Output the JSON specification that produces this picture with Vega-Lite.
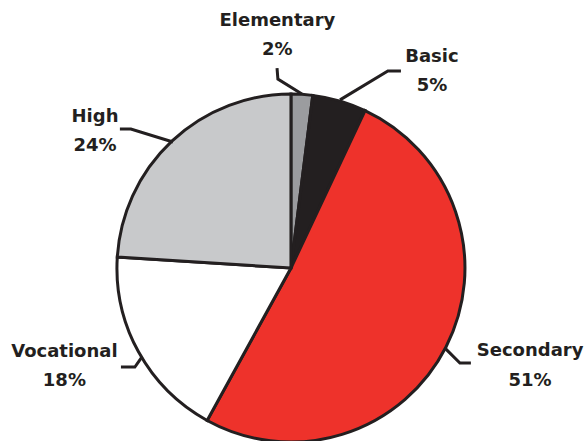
{
  "$schema": "https://vega.github.io/schema/vega-lite/v6.json",
  "width": 588,
  "height": 441,
  "autosize": {"type": "none"},
  "padding": 0,
  "background": "white",
  "view": {"stroke": null},
  "datasets": {
    "slices": [
      {"name": "Elementary", "value": 2, "k": 1},
      {"name": "Basic", "value": 5, "k": 2},
      {"name": "Secondary", "value": 51, "k": 3},
      {"name": "Vocational", "value": 18, "k": 4},
      {"name": "High", "value": 24, "k": 5}
    ],
    "leaders": [
      {"name": "Elementary", "i": 1, "u": -0.080, "v": 1.149},
      {"name": "Elementary", "i": 2, "u": -0.075, "v": 1.086},
      {"name": "Elementary", "i": 3, "u": 0.063, "v": 1.0},
      {"name": "Basic", "i": 1, "u": 0.282, "v": 0.966},
      {"name": "Basic", "i": 2, "u": 0.557, "v": 1.132},
      {"name": "Basic", "i": 3, "u": 0.632, "v": 1.132},
      {"name": "High", "i": 1, "u": -0.983, "v": 0.799},
      {"name": "High", "i": 2, "u": -0.920, "v": 0.799},
      {"name": "High", "i": 3, "u": -0.678, "v": 0.724},
      {"name": "Vocational", "i": 1, "u": -0.977, "v": -0.569},
      {"name": "Vocational", "i": 2, "u": -0.897, "v": -0.569},
      {"name": "Vocational", "i": 3, "u": -0.856, "v": -0.511},
      {"name": "Secondary", "i": 1, "u": 0.885, "v": -0.460},
      {"name": "Secondary", "i": 2, "u": 0.971, "v": -0.546},
      {"name": "Secondary", "i": 3, "u": 1.034, "v": -0.546}
    ],
    "labels": [
      {"name": "Elementary", "pct": "2%", "u": -0.078, "v": 1.391},
      {"name": "Basic", "pct": "5%", "u": 0.810, "v": 1.186},
      {"name": "High", "pct": "24%", "u": -1.126, "v": 0.841},
      {"name": "Vocational", "pct": "18%", "u": -1.302, "v": -0.511},
      {"name": "Secondary", "pct": "51%", "u": 1.374, "v": -0.506}
    ]
  },
  "layer": [
    {
      "data": {"name": "slices"},
      "mark": {"type": "arc", "outerRadius": 174, "stroke": "#231f20", "strokeWidth": 3, "strokeJoin": "miter"},
      "encoding": {
        "x": {"datum": 0, "type": "quantitative", "scale": {"domain": [-1.672, 1.707], "nice": false, "zero": false}, "axis": null},
        "y": {"datum": 0, "type": "quantitative", "scale": {"domain": [-0.994, 1.54], "nice": false, "zero": false}, "axis": null},
        "theta": {"field": "value", "type": "quantitative", "stack": true},
        "order": {"field": "k", "type": "quantitative"},
        "color": {
          "field": "name", "type": "nominal", "legend": null,
          "scale": {
            "domain": ["Elementary", "Basic", "Secondary", "Vocational", "High"],
            "range": ["#9b9c9f", "#231f20", "#ee322b", "#ffffff", "#c8c9cb"]
          }
        }
      }
    },
    {
      "data": {"name": "leaders"},
      "mark": {"type": "line", "stroke": "#231f20", "strokeWidth": 3, "strokeJoin": "miter", "strokeCap": "butt"},
      "encoding": {
        "x": {"field": "u", "type": "quantitative"},
        "y": {"field": "v", "type": "quantitative"},
        "detail": {"field": "name"},
        "order": {"field": "i", "type": "quantitative"}
      }
    },
    {
      "data": {"name": "labels"},
      "mark": {"type": "text", "font": "DejaVu Sans", "fontWeight": "bold", "fontSize": 18, "fill": "#231f20", "align": "center", "baseline": "alphabetic"},
      "encoding": {
        "x": {"field": "u", "type": "quantitative"},
        "y": {"field": "v", "type": "quantitative"},
        "text": {"field": "name"}
      }
    },
    {
      "data": {"name": "labels"},
      "mark": {"type": "text", "font": "DejaVu Sans", "fontWeight": "bold", "fontSize": 18, "fill": "#231f20", "align": "center", "baseline": "alphabetic", "dy": 29.5},
      "encoding": {
        "x": {"field": "u", "type": "quantitative"},
        "y": {"field": "v", "type": "quantitative"},
        "text": {"field": "pct"}
      }
    }
  ]
}
